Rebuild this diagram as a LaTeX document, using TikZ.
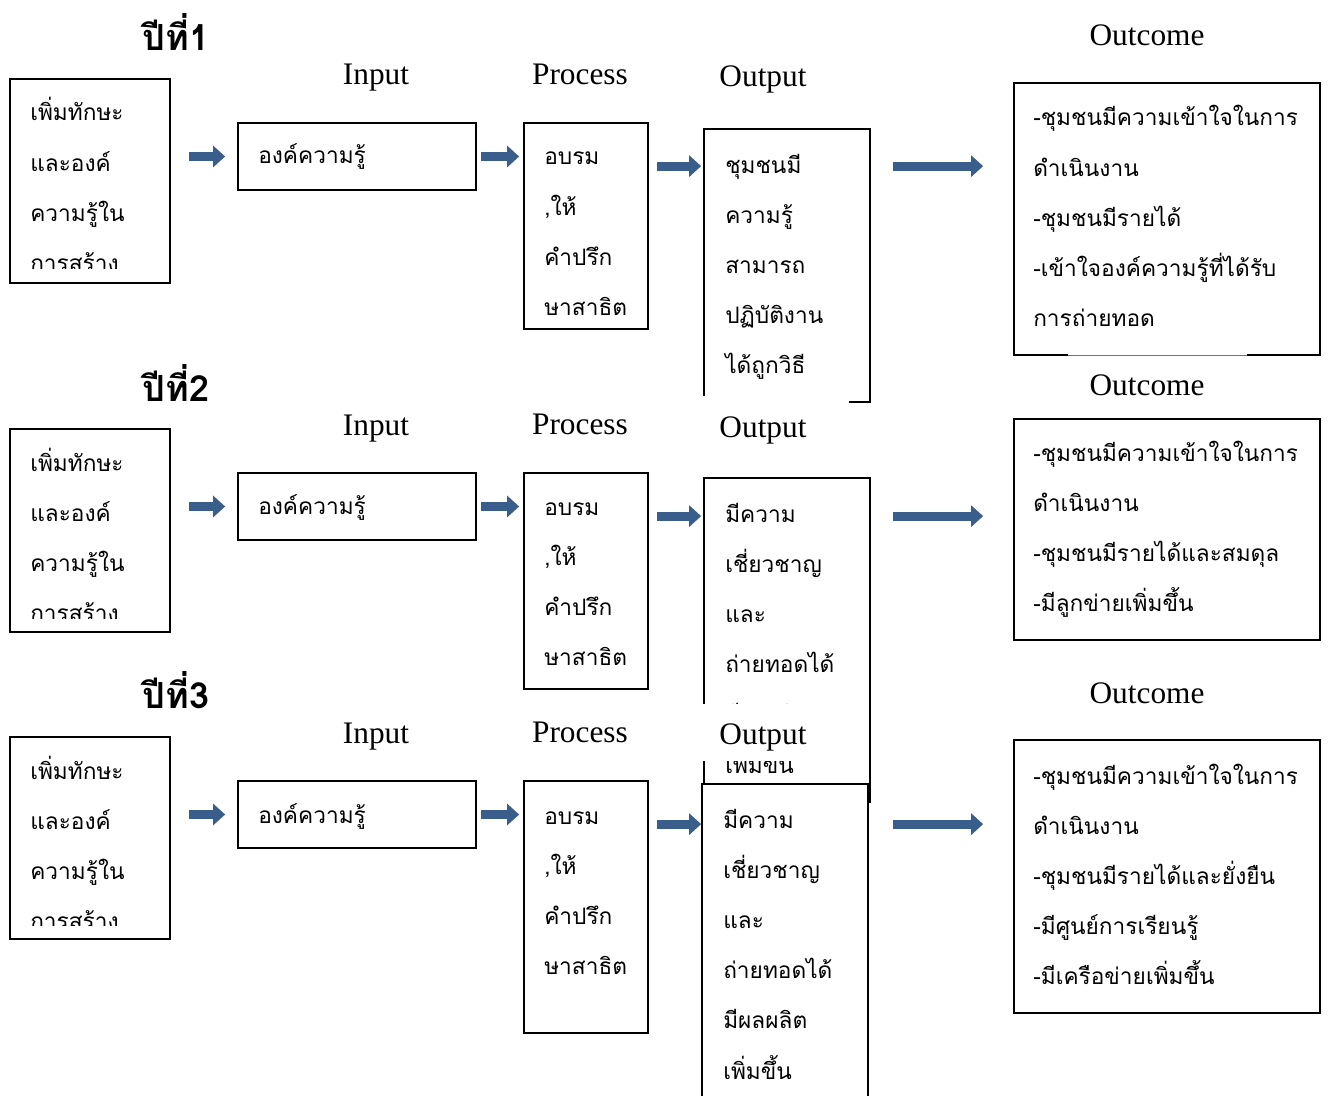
\documentclass[tikz,border=0pt]{standalone}
\usepackage{fontspec}
\setmainfont{Liberation Serif}
\newfontfamily\thai[Script=Thai]{Loma}
\usetikzlibrary{arrows.meta,fit,calc}
\definecolor{arrowblue}{RGB}{58,94,140}
\tikzset{
  box/.style={draw=black, line width=1.3pt, fill=white, inner sep=0pt},
  th/.style={font=\thai\fontsize{17}{20}\selectfont, anchor=base west, inner sep=0pt},
  lab/.style={font=\fontsize{23.5}{26}\selectfont, anchor=base, inner sep=0pt},
  year/.style={font=\thai\bfseries\fontsize{27}{30}\selectfont, anchor=base, inner sep=0pt},
  barrow/.style={draw=arrowblue, line width=6.75pt, -{Triangle[length=9pt,width=15.75pt]}},
}
\newcommand\thlines[4]{%
  \foreach \t [count=\i] in {#4} {\node[th] (#1\i) at (#2, {#3+(\i-1)*50.2}) {\t};}}
\begin{document}
\begin{tikzpicture}[x=0.75pt,y=-0.75pt]
\clip (0,0) rectangle (1330,1095);
\fill[white] (0,0) rectangle (1330,1095);

% ---------------- Row 1 ----------------
\node[year] (y1) at (176,51) {ปีที่1};
\node[lab] (in1) at (376,85) {Input};
\node[lab] (pr1) at (580,85) {Process};
\node[lab] (ou1) at (763,87) {Output};
\node[lab] (oc1) at (1147,46) {Outcome};

\node[box, fit={(10,79)(170,283)}] (a1) {};
\begin{scope}\clip (10,79) rectangle (170,268);
\thlines{a1t}{30}{121}{เพิ่มทักษะ,และองค์,ความรู้ใน,การสร้าง}
\end{scope}
\node[box, fit={(238,123)(476,190)}] (b1) {};
\thlines{b1t}{258}{164}{องค์ความรู้}
\node[box, fit={(524,123)(648,329)}] (c1) {};
\thlines{c1t}{544}{165}{อบรม,{,ให้},คำปรึก,ษาสาธิต}
\node[box, fit={(704,129)(870,402)}] (d1) {};
\thlines{d1t}{725}{173}{ชุมชนมี,ความรู้,สามารถ,ปฏิบัติงาน,ได้ถูกวิธี}
\node[box, fit={(1014,83)(1320,355)}] (e1) {};
\thlines{e1t}{1033}{126}{-ชุมชนมีความเข้าใจในการ,ดำเนินงาน,-ชุมชนมีรายได้,-เข้าใจองค์ความรู้ที่ได้รับ,การถ่ายทอด}
\draw[white, line width=2pt] (1068,355) -- (1247,355);
\draw[black!55, line width=0.7pt] (1068,355) -- (1247,355);

\coordinate (r1) at ($(c1.north east)+(0,44)$);
\draw[barrow] ($(b1.west)+(-48,0)$) -- ($(b1.west)+(-12,0)$);
\draw[barrow] ($(b1.east)+(4,0)$) -- ($(b1.east -| c1.west)+(-4,0)$);
\draw[barrow] ($(r1)+(8,0)$) -- ($(r1 -| d1.west)+(-2,0)$);
\draw[barrow] ($(r1 -| d1.east)+(22,0)$) -- ($(r1 -| e1.west)+(-30,0)$);

% white frame of the next label covering the lower part of d1
\fill[white] (698,396) rectangle (849,455);

% ---------------- Row 2 ----------------
\node[year] (y2) at (176,401) {ปีที่2};
\node[lab] (in2) at (376,435) {Input};
\node[lab] (pr2) at (580,434) {Process};
\node[lab] (ou2) at (763,437) {Output};
\node[lab] (oc2) at (1147,395) {Outcome};

\node[box, fit={(10,429)(170,632)}] (a2) {};
\begin{scope}\clip (10,429) rectangle (170,618);
\thlines{a2t}{30}{471}{เพิ่มทักษะ,และองค์,ความรู้ใน,การสร้าง}
\end{scope}
\node[box, fit={(238,473)(476,540)}] (b2) {};
\thlines{b2t}{258}{514}{องค์ความรู้}
\node[box, fit={(524,473)(648,689)}] (c2) {};
\thlines{c2t}{544}{515}{อบรม,{,ให้},คำปรึก,ษาสาธิต}
\node[box, fit={(704,478)(870,802)}] (d2) {};
\thlines{d2t}{725}{522}{มีความ,เชี่ยวชาญ,และ,ถ่ายทอดได้,มีผลผลิต,เพิ่มขึ้น}
\node[box, fit={(1014,419)(1320,640)}] (e2) {};
\thlines{e2t}{1033}{461}{-ชุมชนมีความเข้าใจในการ,ดำเนินงาน,-ชุมชนมีรายได้และสมดุล,-มีลูกข่ายเพิ่มขึ้น}

\coordinate (r2) at ($(c2.north east)+(0,44)$);
\draw[barrow] ($(b2.west)+(-48,0)$) -- ($(b2.west)+(-12,0)$);
\draw[barrow] ($(b2.east)+(4,0)$) -- ($(b2.east -| c2.west)+(-4,0)$);
\draw[barrow] ($(r2)+(8,0)$) -- ($(r2 -| d2.west)+(-2,0)$);
\draw[barrow] ($(r2 -| d2.east)+(22,0)$) -- ($(r2 -| e2.west)+(-30,0)$);

% white frame of the next label covering part of d2
\fill[white] (698,704) rectangle (862,761);

% ---------------- Row 3 ----------------
\node[year] (y3) at (176,708) {ปีที่3};
\node[lab] (in3) at (376,743) {Input};
\node[lab] (pr3) at (580,742) {Process};
\node[lab] (ou3) at (763,744) {Output};
\node[lab] (oc3) at (1147,703) {Outcome};

\node[box, fit={(10,737)(170,939)}] (a3) {};
\begin{scope}\clip (10,737) rectangle (170,925);
\thlines{a3t}{30}{779}{เพิ่มทักษะ,และองค์,ความรู้ใน,การสร้าง}
\end{scope}
\node[box, fit={(238,781)(476,848)}] (b3) {};
\thlines{b3t}{258}{823}{องค์ความรู้}
\node[box, fit={(524,781)(648,1033)}] (c3) {};
\thlines{c3t}{544}{824}{อบรม,{,ให้},คำปรึก,ษาสาธิต}
\node[box, fit={(702,784)(868,1112)}] (d3) {};
\thlines{d3t}{723}{828}{มีความ,เชี่ยวชาญ,และ,ถ่ายทอดได้,มีผลผลิต,เพิ่มขึ้น}
\node[box, fit={(1014,740)(1320,1013)}] (e3) {};
\thlines{e3t}{1033}{784}{-ชุมชนมีความเข้าใจในการ,ดำเนินงาน,-ชุมชนมีรายได้และยั่งยืน,-มีศูนย์การเรียนรู้,-มีเครือข่ายเพิ่มขึ้น}

\coordinate (r3) at ($(c3.north east)+(0,44)$);
\draw[barrow] ($(b3.west)+(-48,0)$) -- ($(b3.west)+(-12,0)$);
\draw[barrow] ($(b3.east)+(4,0)$) -- ($(b3.east -| c3.west)+(-4,0)$);
\draw[barrow] ($(r3)+(8,0)$) -- ($(r3 -| d3.west)+(0,0)$);
\draw[barrow] ($(r3 -| d3.east)+(24,0)$) -- ($(r3 -| e3.west)+(-30,0)$);
\end{tikzpicture}
\end{document}
